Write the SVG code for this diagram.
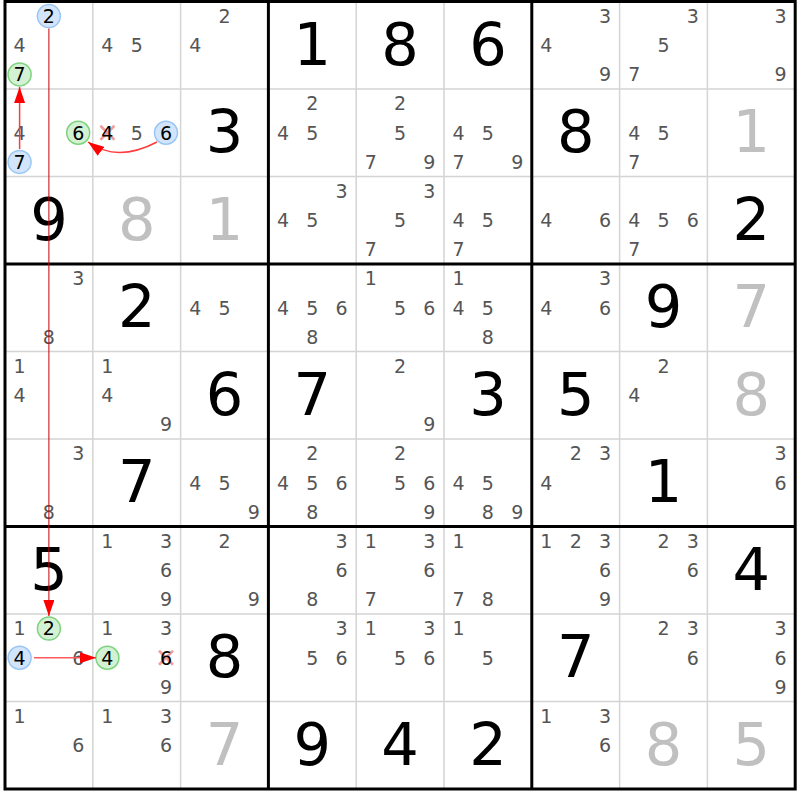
<svg xmlns="http://www.w3.org/2000/svg" width="800" height="800" viewBox="0 0 800 800">
<style>
text{font-family:"DejaVu Sans","Liberation Sans",sans-serif;text-anchor:middle}
.p{font-size:19px;fill:#555;transform:translateY(0.4px)}
.k{font-size:19px;fill:#000;transform:translateY(0.4px)}
.g{font-size:59px;fill:#000}
.s{font-size:59px;fill:#c0c0c0}
.thin{stroke:#d4d4d4;stroke-width:1.5}
.thick{stroke:#000;stroke-width:3;fill:none}
.cb{fill:#d2e5fb;stroke:#9ac6f3;stroke-width:1.5}
.cg{fill:#d3f1d3;stroke:#7dd27d;stroke-width:1.5}
.x{stroke:#f28a8a;stroke-width:2.5;stroke-opacity:0.85}
</style>
<defs>
<marker id="ah" viewBox="0 0 16 11" refX="16" refY="5.5" markerWidth="16" markerHeight="11" markerUnits="userSpaceOnUse" orient="auto"><path d="M0,0 L16,5.5 L0,11 z" fill="#ff0000"/></marker>
</defs>
<rect width="800" height="800" fill="#fff"/>
<g id="grid">
<path class="thin" d="M92.8,1.5V789M180.6,1.5V789M356.2,1.5V789M444,1.5V789M619.6,1.5V789M707.4,1.5V789M5,89H795.2M5,176.5H795.2M5,351.5H795.2M5,439H795.2M5,614H795.2M5,701.5H795.2"/>
<path class="thick" d="M268.4,1.5V789M531.8,1.5V789M5,264H795.2M5,526.5H795.2"/>
<rect class="thick" x="5" y="1.5" width="790.2" height="787.5"/>
</g>
<!-- Row 0 -->
<g id="r0c0" transform="translate(5,1.5)"><circle class="cb" cx="43.9" cy="14.6" r="11.5"/><text class="k" x="43.9" y="21.1">2</text><text class="p" x="14.6" y="50.25">4</text><circle class="cg" cx="14.6" cy="72.9" r="11.5"/><text class="k" x="14.6" y="79.4">7</text></g>
<g id="r0c1" transform="translate(92.8,1.5)"><text class="p" x="14.6" y="50.25">4</text><text class="p" x="43.9" y="50.25">5</text></g>
<g id="r0c2" transform="translate(180.6,1.5)"><text class="p" x="43.9" y="21.1">2</text><text class="p" x="14.6" y="50.25">4</text></g>
<g id="r0c3" transform="translate(268.4,1.5)"><text class="g" x="43.9" y="63.25">1</text></g>
<g id="r0c4" transform="translate(356.2,1.5)"><text class="g" x="43.9" y="63.25">8</text></g>
<g id="r0c5" transform="translate(444,1.5)"><text class="g" x="43.9" y="63.25">6</text></g>
<g id="r0c6" transform="translate(531.8,1.5)"><text class="p" x="73.2" y="21.1">3</text><text class="p" x="14.6" y="50.25">4</text><text class="p" x="73.2" y="79.4">9</text></g>
<g id="r0c7" transform="translate(619.6,1.5)"><text class="p" x="73.2" y="21.1">3</text><text class="p" x="43.9" y="50.25">5</text><text class="p" x="14.6" y="79.4">7</text></g>
<g id="r0c8" transform="translate(707.4,1.5)"><text class="p" x="73.2" y="21.1">3</text><text class="p" x="73.2" y="79.4">9</text></g>
<!-- Row 1 -->
<g id="r1c0" transform="translate(5,89)"><text class="p" x="14.6" y="50.25">4</text><circle class="cg" cx="73.2" cy="43.75" r="11.5"/><text class="k" x="73.2" y="50.25">6</text><circle class="cb" cx="14.6" cy="72.9" r="11.5"/><text class="k" x="14.6" y="79.4">7</text></g>
<g id="r1c1" transform="translate(92.8,89)"><path class="x" d="M7.6,36.75L21.6,50.75M21.6,36.75L7.6,50.75"/><text class="k" x="14.6" y="50.25">4</text><text class="p" x="43.9" y="50.25">5</text><circle class="cb" cx="73.2" cy="43.75" r="11.5"/><text class="k" x="73.2" y="50.25">6</text></g>
<g id="r1c2" transform="translate(180.6,89)"><text class="g" x="43.9" y="63.25">3</text></g>
<g id="r1c3" transform="translate(268.4,89)"><text class="p" x="43.9" y="21.1">2</text><text class="p" x="14.6" y="50.25">4</text><text class="p" x="43.9" y="50.25">5</text></g>
<g id="r1c4" transform="translate(356.2,89)"><text class="p" x="43.9" y="21.1">2</text><text class="p" x="43.9" y="50.25">5</text><text class="p" x="14.6" y="79.4">7</text><text class="p" x="73.2" y="79.4">9</text></g>
<g id="r1c5" transform="translate(444,89)"><text class="p" x="14.6" y="50.25">4</text><text class="p" x="43.9" y="50.25">5</text><text class="p" x="14.6" y="79.4">7</text><text class="p" x="73.2" y="79.4">9</text></g>
<g id="r1c6" transform="translate(531.8,89)"><text class="g" x="43.9" y="63.25">8</text></g>
<g id="r1c7" transform="translate(619.6,89)"><text class="p" x="14.6" y="50.25">4</text><text class="p" x="43.9" y="50.25">5</text><text class="p" x="14.6" y="79.4">7</text></g>
<g id="r1c8" transform="translate(707.4,89)"><text class="s" x="43.9" y="63.25">1</text></g>
<!-- Row 2 -->
<g id="r2c0" transform="translate(5,176.5)"><text class="g" x="43.9" y="63.25">9</text></g>
<g id="r2c1" transform="translate(92.8,176.5)"><text class="s" x="43.9" y="63.25">8</text></g>
<g id="r2c2" transform="translate(180.6,176.5)"><text class="s" x="43.9" y="63.25">1</text></g>
<g id="r2c3" transform="translate(268.4,176.5)"><text class="p" x="73.2" y="21.1">3</text><text class="p" x="14.6" y="50.25">4</text><text class="p" x="43.9" y="50.25">5</text></g>
<g id="r2c4" transform="translate(356.2,176.5)"><text class="p" x="73.2" y="21.1">3</text><text class="p" x="43.9" y="50.25">5</text><text class="p" x="14.6" y="79.4">7</text></g>
<g id="r2c5" transform="translate(444,176.5)"><text class="p" x="14.6" y="50.25">4</text><text class="p" x="43.9" y="50.25">5</text><text class="p" x="14.6" y="79.4">7</text></g>
<g id="r2c6" transform="translate(531.8,176.5)"><text class="p" x="14.6" y="50.25">4</text><text class="p" x="73.2" y="50.25">6</text></g>
<g id="r2c7" transform="translate(619.6,176.5)"><text class="p" x="14.6" y="50.25">4</text><text class="p" x="43.9" y="50.25">5</text><text class="p" x="73.2" y="50.25">6</text><text class="p" x="14.6" y="79.4">7</text></g>
<g id="r2c8" transform="translate(707.4,176.5)"><text class="g" x="43.9" y="63.25">2</text></g>
<!-- Row 3 -->
<g id="r3c0" transform="translate(5,264)"><text class="p" x="73.2" y="21.1">3</text><text class="p" x="43.9" y="79.4">8</text></g>
<g id="r3c1" transform="translate(92.8,264)"><text class="g" x="43.9" y="63.25">2</text></g>
<g id="r3c2" transform="translate(180.6,264)"><text class="p" x="14.6" y="50.25">4</text><text class="p" x="43.9" y="50.25">5</text></g>
<g id="r3c3" transform="translate(268.4,264)"><text class="p" x="14.6" y="50.25">4</text><text class="p" x="43.9" y="50.25">5</text><text class="p" x="73.2" y="50.25">6</text><text class="p" x="43.9" y="79.4">8</text></g>
<g id="r3c4" transform="translate(356.2,264)"><text class="p" x="14.6" y="21.1">1</text><text class="p" x="43.9" y="50.25">5</text><text class="p" x="73.2" y="50.25">6</text></g>
<g id="r3c5" transform="translate(444,264)"><text class="p" x="14.6" y="21.1">1</text><text class="p" x="14.6" y="50.25">4</text><text class="p" x="43.9" y="50.25">5</text><text class="p" x="43.9" y="79.4">8</text></g>
<g id="r3c6" transform="translate(531.8,264)"><text class="p" x="73.2" y="21.1">3</text><text class="p" x="14.6" y="50.25">4</text><text class="p" x="73.2" y="50.25">6</text></g>
<g id="r3c7" transform="translate(619.6,264)"><text class="g" x="43.9" y="63.25">9</text></g>
<g id="r3c8" transform="translate(707.4,264)"><text class="s" x="43.9" y="63.25">7</text></g>
<!-- Row 4 -->
<g id="r4c0" transform="translate(5,351.5)"><text class="p" x="14.6" y="21.1">1</text><text class="p" x="14.6" y="50.25">4</text></g>
<g id="r4c1" transform="translate(92.8,351.5)"><text class="p" x="14.6" y="21.1">1</text><text class="p" x="14.6" y="50.25">4</text><text class="p" x="73.2" y="79.4">9</text></g>
<g id="r4c2" transform="translate(180.6,351.5)"><text class="g" x="43.9" y="63.25">6</text></g>
<g id="r4c3" transform="translate(268.4,351.5)"><text class="g" x="43.9" y="63.25">7</text></g>
<g id="r4c4" transform="translate(356.2,351.5)"><text class="p" x="43.9" y="21.1">2</text><text class="p" x="73.2" y="79.4">9</text></g>
<g id="r4c5" transform="translate(444,351.5)"><text class="g" x="43.9" y="63.25">3</text></g>
<g id="r4c6" transform="translate(531.8,351.5)"><text class="g" x="43.9" y="63.25">5</text></g>
<g id="r4c7" transform="translate(619.6,351.5)"><text class="p" x="43.9" y="21.1">2</text><text class="p" x="14.6" y="50.25">4</text></g>
<g id="r4c8" transform="translate(707.4,351.5)"><text class="s" x="43.9" y="63.25">8</text></g>
<!-- Row 5 -->
<g id="r5c0" transform="translate(5,439)"><text class="p" x="73.2" y="21.1">3</text><text class="p" x="43.9" y="79.4">8</text></g>
<g id="r5c1" transform="translate(92.8,439)"><text class="g" x="43.9" y="63.25">7</text></g>
<g id="r5c2" transform="translate(180.6,439)"><text class="p" x="14.6" y="50.25">4</text><text class="p" x="43.9" y="50.25">5</text><text class="p" x="73.2" y="79.4">9</text></g>
<g id="r5c3" transform="translate(268.4,439)"><text class="p" x="43.9" y="21.1">2</text><text class="p" x="14.6" y="50.25">4</text><text class="p" x="43.9" y="50.25">5</text><text class="p" x="73.2" y="50.25">6</text><text class="p" x="43.9" y="79.4">8</text></g>
<g id="r5c4" transform="translate(356.2,439)"><text class="p" x="43.9" y="21.1">2</text><text class="p" x="43.9" y="50.25">5</text><text class="p" x="73.2" y="50.25">6</text><text class="p" x="73.2" y="79.4">9</text></g>
<g id="r5c5" transform="translate(444,439)"><text class="p" x="14.6" y="50.25">4</text><text class="p" x="43.9" y="50.25">5</text><text class="p" x="43.9" y="79.4">8</text><text class="p" x="73.2" y="79.4">9</text></g>
<g id="r5c6" transform="translate(531.8,439)"><text class="p" x="43.9" y="21.1">2</text><text class="p" x="73.2" y="21.1">3</text><text class="p" x="14.6" y="50.25">4</text></g>
<g id="r5c7" transform="translate(619.6,439)"><text class="g" x="43.9" y="63.25">1</text></g>
<g id="r5c8" transform="translate(707.4,439)"><text class="p" x="73.2" y="21.1">3</text><text class="p" x="73.2" y="50.25">6</text></g>
<!-- Row 6 -->
<g id="r6c0" transform="translate(5,526.5)"><text class="g" x="43.9" y="63.25">5</text></g>
<g id="r6c1" transform="translate(92.8,526.5)"><text class="p" x="14.6" y="21.1">1</text><text class="p" x="73.2" y="21.1">3</text><text class="p" x="73.2" y="50.25">6</text><text class="p" x="73.2" y="79.4">9</text></g>
<g id="r6c2" transform="translate(180.6,526.5)"><text class="p" x="43.9" y="21.1">2</text><text class="p" x="73.2" y="79.4">9</text></g>
<g id="r6c3" transform="translate(268.4,526.5)"><text class="p" x="73.2" y="21.1">3</text><text class="p" x="73.2" y="50.25">6</text><text class="p" x="43.9" y="79.4">8</text></g>
<g id="r6c4" transform="translate(356.2,526.5)"><text class="p" x="14.6" y="21.1">1</text><text class="p" x="73.2" y="21.1">3</text><text class="p" x="73.2" y="50.25">6</text><text class="p" x="14.6" y="79.4">7</text></g>
<g id="r6c5" transform="translate(444,526.5)"><text class="p" x="14.6" y="21.1">1</text><text class="p" x="14.6" y="79.4">7</text><text class="p" x="43.9" y="79.4">8</text></g>
<g id="r6c6" transform="translate(531.8,526.5)"><text class="p" x="14.6" y="21.1">1</text><text class="p" x="43.9" y="21.1">2</text><text class="p" x="73.2" y="21.1">3</text><text class="p" x="73.2" y="50.25">6</text><text class="p" x="73.2" y="79.4">9</text></g>
<g id="r6c7" transform="translate(619.6,526.5)"><text class="p" x="43.9" y="21.1">2</text><text class="p" x="73.2" y="21.1">3</text><text class="p" x="73.2" y="50.25">6</text></g>
<g id="r6c8" transform="translate(707.4,526.5)"><text class="g" x="43.9" y="63.25">4</text></g>
<!-- Row 7 -->
<g id="r7c0" transform="translate(5,614)"><text class="p" x="14.6" y="21.1">1</text><circle class="cg" cx="43.9" cy="14.6" r="11.5"/><text class="k" x="43.9" y="21.1">2</text><circle class="cb" cx="14.6" cy="43.75" r="11.5"/><text class="k" x="14.6" y="50.25">4</text><text class="p" x="73.2" y="50.25">6</text></g>
<g id="r7c1" transform="translate(92.8,614)"><text class="p" x="14.6" y="21.1">1</text><text class="p" x="73.2" y="21.1">3</text><circle class="cg" cx="14.6" cy="43.75" r="11.5"/><text class="k" x="14.6" y="50.25">4</text><path class="x" d="M66.2,36.75L80.2,50.75M80.2,36.75L66.2,50.75"/><text class="k" x="73.2" y="50.25">6</text><text class="p" x="73.2" y="79.4">9</text></g>
<g id="r7c2" transform="translate(180.6,614)"><text class="g" x="43.9" y="63.25">8</text></g>
<g id="r7c3" transform="translate(268.4,614)"><text class="p" x="73.2" y="21.1">3</text><text class="p" x="43.9" y="50.25">5</text><text class="p" x="73.2" y="50.25">6</text></g>
<g id="r7c4" transform="translate(356.2,614)"><text class="p" x="14.6" y="21.1">1</text><text class="p" x="73.2" y="21.1">3</text><text class="p" x="43.9" y="50.25">5</text><text class="p" x="73.2" y="50.25">6</text></g>
<g id="r7c5" transform="translate(444,614)"><text class="p" x="14.6" y="21.1">1</text><text class="p" x="43.9" y="50.25">5</text></g>
<g id="r7c6" transform="translate(531.8,614)"><text class="g" x="43.9" y="63.25">7</text></g>
<g id="r7c7" transform="translate(619.6,614)"><text class="p" x="43.9" y="21.1">2</text><text class="p" x="73.2" y="21.1">3</text><text class="p" x="73.2" y="50.25">6</text></g>
<g id="r7c8" transform="translate(707.4,614)"><text class="p" x="73.2" y="21.1">3</text><text class="p" x="73.2" y="50.25">6</text><text class="p" x="73.2" y="79.4">9</text></g>
<!-- Row 8 -->
<g id="r8c0" transform="translate(5,701.5)"><text class="p" x="14.6" y="21.1">1</text><text class="p" x="73.2" y="50.25">6</text></g>
<g id="r8c1" transform="translate(92.8,701.5)"><text class="p" x="14.6" y="21.1">1</text><text class="p" x="73.2" y="21.1">3</text><text class="p" x="73.2" y="50.25">6</text></g>
<g id="r8c2" transform="translate(180.6,701.5)"><text class="s" x="43.9" y="63.25">7</text></g>
<g id="r8c3" transform="translate(268.4,701.5)"><text class="g" x="43.9" y="63.25">9</text></g>
<g id="r8c4" transform="translate(356.2,701.5)"><text class="g" x="43.9" y="63.25">4</text></g>
<g id="r8c5" transform="translate(444,701.5)"><text class="g" x="43.9" y="63.25">2</text></g>
<g id="r8c6" transform="translate(531.8,701.5)"><text class="p" x="14.6" y="21.1">1</text><text class="p" x="73.2" y="21.1">3</text><text class="p" x="73.2" y="50.25">6</text></g>
<g id="r8c7" transform="translate(619.6,701.5)"><text class="s" x="43.9" y="63.25">8</text></g>
<g id="r8c8" transform="translate(707.4,701.5)"><text class="s" x="43.9" y="63.25">5</text></g>
<g id="connectors" fill="none">
<path d="M48.9,28.5V616" stroke="#c80000" stroke-width="1" marker-end="url(#ah)"/>
<path d="M19.6,149V87" stroke="#ff3b3b" stroke-width="1.5" marker-end="url(#ah)"/>
<path d="M157,142Q117,163 88,142" stroke="#ff3b3b" stroke-width="1.5" marker-end="url(#ah)"/>
<path d="M34,657.75H96" stroke="#ff5a5a" stroke-width="1.5" marker-end="url(#ah)"/>
</g>
</svg>
